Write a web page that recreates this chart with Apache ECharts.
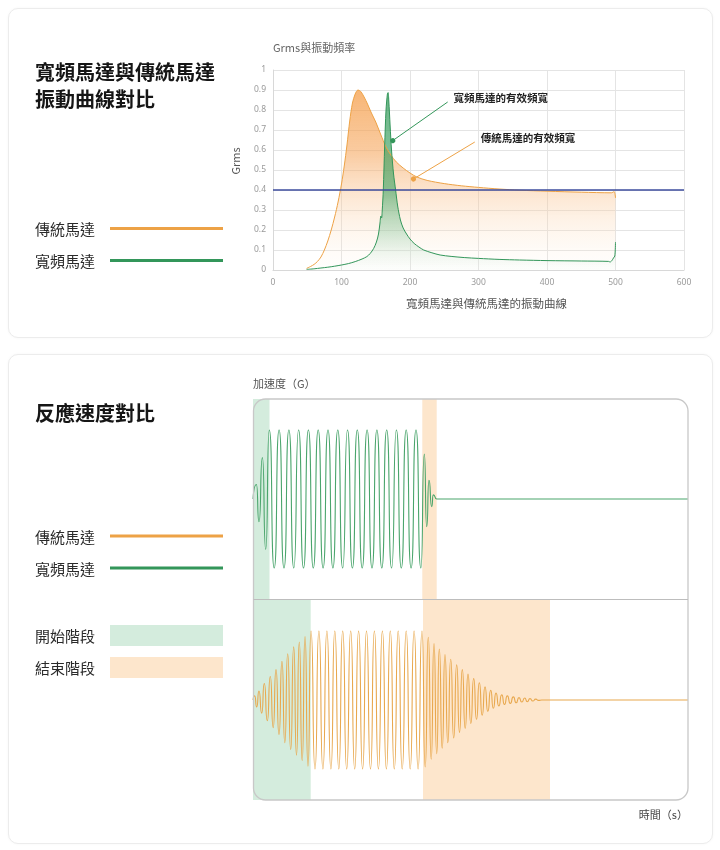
<!DOCTYPE html>
<html>
<head>
<meta charset="utf-8">
<script src="https://cdn.jsdelivr.net/npm/echarts@6/dist/echarts.min.js"></script>
<style>
html, body { margin: 0; padding: 0; background: #fff; }
#wrap { position: relative; width: 720px; height: 850px; }
.card { position: absolute; left: 8px; width: 703px; background: #fff; border: 1px solid #ececec; border-radius: 10px; box-shadow: 0 0 3px rgba(0,0,0,0.04); }
#chart { position: absolute; left: 0; top: 0; width: 720px; height: 850px; }
</style>
</head>
<body>
<div id="wrap">
	<div class="card" style="top:8px;height:328px"></div>
	<div class="card" style="top:354px;height:488px"></div>
	<div id="chart"></div>
</div>
<script>
// Grms vs frequency (Hz)
var traditionalCurve = [
	[49, 0.008], [55, 0.018], [60, 0.028], [65, 0.043], [70, 0.065], [75, 0.1], [80, 0.145],
	[85, 0.2], [90, 0.265], [95, 0.34], [100, 0.43], [104, 0.52], [108, 0.625], [112, 0.745],
	[116, 0.835], [120, 0.88], [124, 0.9], [128, 0.893], [133, 0.865], [138, 0.83], [143, 0.79],
	[150, 0.74], [157, 0.68], [165, 0.615], [172, 0.575], [180, 0.54], [190, 0.51], [200, 0.485],
	[210, 0.465], [225, 0.448], [250, 0.432], [275, 0.421], [300, 0.413], [330, 0.405],
	[360, 0.399], [400, 0.394], [450, 0.389], [494, 0.386], [498, 0.392], [500, 0.36]
];
var widebandCurve = [
	[49, 0.003], [60, 0.006], [70, 0.01], [80, 0.014], [90, 0.019], [100, 0.025], [110, 0.032],
	[120, 0.042], [130, 0.055], [137, 0.067], [142, 0.083], [147, 0.108], [151, 0.14], [154, 0.18],
	[156, 0.23], [157.5, 0.27], [158.5, 0.26], [159.5, 0.3], [161, 0.4], [163, 0.62], [165, 0.8],
	[167, 0.88], [168, 0.887], [169, 0.85], [171, 0.72], [173, 0.6], [176, 0.48], [179, 0.4],
	[182, 0.32], [186, 0.25], [190, 0.21], [195, 0.18], [200, 0.155], [206, 0.133], [213, 0.115],
	[220, 0.1], [232, 0.086], [244, 0.075], [260, 0.068], [280, 0.062], [300, 0.058], [330, 0.053],
	[360, 0.05], [400, 0.047], [450, 0.045], [490, 0.043], [492, 0.04], [495, 0.048], [497, 0.06],
	[499, 0.07], [500, 0.14]
];
var threshold = 0.4;
var widebandNote = [[174.8, 0.647], [255, 0.84]];
var traditionalNote = [[205, 0.455], [294.6, 0.64]];

// response waves: [time, G] at each peak / trough
var widebandWave = [
	[0, 0], [3.4, 0.21], [6.0, -0.33], [9.4, 0.6], [12.7, -0.73], [16.3, 1], [21.2, -1], [26.1, 1],
	[31.0, -1], [35.9, 1], [40.8, -1], [45.6, 1], [50.5, -1], [55.4, 1], [60.3, -1], [65.2, 1],
	[70.1, -1], [75.0, 1], [79.9, -1], [84.8, 1], [89.7, -1], [94.5, 1], [99.4, -1], [104.3, 1],
	[109.2, -1], [114.1, 1], [119.0, -1], [123.9, 1], [128.8, -1], [133.7, 1], [138.6, -1],
	[143.4, 1], [148.3, -1], [153.2, 1], [158.1, -1], [163.0, 1], [167.9, -1], [171.3, 0.65],
	[173.7, -0.4], [176.0, 0.27], [178.7, -0.11], [180.3, 0.06], [183.7, 0], [435, 0]
];
var traditionalWave = [
	[0, 0], [1.7, 0.06], [3.7, -0.1], [6.0, 0.13], [8.7, -0.19], [11.3, 0.24], [14.3, -0.3],
	[17.3, 0.34], [20.2, -0.4], [23.0, 0.44], [26.0, -0.5], [29.0, 0.56], [31.8, -0.62],
	[34.7, 0.67], [37.7, -0.72], [40.7, 0.77], [43.5, -0.8], [46.3, 0.84], [49.2, -0.88],
	[52.0, 0.92], [55.0, -0.96], [58.0, 1], [62.0, -1], [65.9, 1], [69.9, -1], [73.9, 1],
	[77.9, -1], [81.8, 1], [85.8, -1], [89.7, 1], [93.7, -1], [97.7, 1], [101.7, -1], [105.6, 1],
	[109.6, -1], [113.5, 1], [117.5, -1], [121.4, 1], [125.4, -1], [129.4, 1], [133.4, -1],
	[137.3, 1], [141.3, -1], [145.2, 1], [149.2, -1], [153.2, 1], [157.2, -1], [161.1, 1],
	[165.1, -1], [169.0, 1], [172.2, -0.97], [175.3, 0.91], [178.2, -0.86], [181.0, 0.82],
	[183.7, -0.78], [186.3, 0.74], [189.2, -0.7], [192.0, 0.66], [194.8, -0.62], [197.7, 0.59],
	[200.7, -0.55], [203.7, 0.51], [206.5, -0.47], [209.3, 0.44], [212.2, -0.41], [215.0, 0.375],
	[217.8, -0.34], [220.7, 0.31], [223.5, -0.28], [226.3, 0.25], [229.2, -0.22], [232.0, 0.19],
	[234.8, -0.165], [237.7, 0.14], [240.3, -0.12], [243.0, 0.1], [245.8, -0.085], [248.7, 0.075],
	[251.5, -0.065], [254.3, 0.06], [257.3, -0.05], [260.3, 0.045], [263.2, -0.04], [266.0, 0.035],
	[268.8, -0.03], [271.7, 0.03], [274.3, -0.025], [277.0, 0.02], [279.8, -0.015], [282.7, 0.012],
	[285.5, -0.006], [288.7, 0], [435, 0]
];
var widebandStart = [0, 16.5];
var widebandEnd = [169.3, 183.7];
var traditionalStart = [0, 57.7];
var traditionalEnd = [170, 297];

var ORANGE = '#eda246';
var GREEN = '#33965a';
var WAVE_ORANGE = '#e8a84e';
var WAVE_GREEN = '#4aa56c';
var BAND_GREEN = '#d4ecdd';
var BAND_ORANGE = '#fde6cc';
var CJK = '"Noto Sans CJK TC", "Noto Sans CJK SC", sans-serif';

function txt(text, x, y, size, opts) {
	opts = opts || {};
	return {
		type: 'text', x: x, y: y, rotation: opts.rotation || 0, z: 50,
		style: {
			text: text, fontSize: size, fontFamily: CJK, fontWeight: opts.bold ? 'bold' : 'normal',
			fill: opts.color || '#222', align: opts.align || 'left', textAlign: opts.align || 'left',
			verticalAlign: 'middle', textVerticalAlign: 'middle'
		}
	};
}
function legendLine(y, color) {
	return { type: 'line', z: 50, shape: { x1: 110, y1: y, x2: 223, y2: y }, style: { stroke: color, lineWidth: 3 } };
}
function legendRect(y, color) {
	return { type: 'rect', z: 50, shape: { x: 110, y: y, width: 113, height: 21 }, style: { fill: color } };
}
function band(range, color) {
	return [{ xAxis: range[0], itemStyle: { color: color } }, { xAxis: range[1] }];
}

var chart = echarts.init(document.getElementById('chart'), null, { renderer: 'canvas' });

var axisLabel = { color: '#9a9a9a', fontSize: 8.5, fontFamily: 'Noto Sans' };

chart.setOption({
	animation: false,
	backgroundColor: 'transparent',
	textStyle: { fontFamily: CJK },
	grid: [
		{ left: 273, top: 70, width: 411, height: 200 },
		{ left: 253, top: 399, width: 435, height: 200 },
		{ left: 253, top: 600, width: 435, height: 200 }
	],
	xAxis: [
		{
			gridIndex: 0, type: 'value', min: 0, max: 600, interval: 100,
			axisLine: { lineStyle: { color: '#d8d8d8' } }, axisTick: { show: false },
			axisLabel: Object.assign({ margin: 8 }, axisLabel),
			splitLine: { lineStyle: { color: '#e4e4e4' } },
			name: '寬頻馬達與傳統馬達的振動曲線', nameLocation: 'middle', nameGap: 28,
			nameTextStyle: { color: '#555', fontSize: 11.5, padding: [0, 0, 0, 16] }
		},
		{ gridIndex: 1, type: 'value', min: 0, max: 435, show: false },
		{ gridIndex: 2, type: 'value', min: 0, max: 435, show: false }
	],
	yAxis: [
		{
			gridIndex: 0, type: 'value', min: 0, max: 1, interval: 0.1,
			axisLine: { show: true, lineStyle: { color: '#d8d8d8' } }, axisTick: { show: false },
			axisLabel: Object.assign({ margin: 7 }, axisLabel),
			splitLine: { lineStyle: { color: '#e4e4e4' } }
		},
		{ gridIndex: 1, type: 'value', min: -1.45, max: 1.45, show: false },
		{ gridIndex: 2, type: 'value', min: -1.45, max: 1.45, show: false }
	],
	series: [
		{
			name: '傳統馬達', type: 'line', xAxisIndex: 0, yAxisIndex: 0,
			data: traditionalCurve, smooth: 0.3, showSymbol: false, silent: true,
			lineStyle: { color: ORANGE, width: 1 }, itemStyle: { color: ORANGE },
			areaStyle: {
				color: new echarts.graphic.LinearGradient(0, 0, 0, 1, [
					{ offset: 0, color: 'rgba(244,150,58,1)' },
					{ offset: 0.35, color: 'rgba(246,168,96,0.85)' },
					{ offset: 0.6, color: 'rgba(249,196,145,0.55)' },
					{ offset: 1, color: 'rgba(255,244,232,0.12)' }
				])
			},
			markLine: {
				silent: true, symbol: 'none',
				data: [
					{ yAxis: threshold, lineStyle: { color: '#3d4c9e', width: 1.5, type: 'solid' }, label: { show: false } },
					[
						{ coord: traditionalNote[0], symbol: 'circle', symbolSize: 5 },
						{ coord: traditionalNote[1], symbol: 'none' }
					]
				],
				lineStyle: { color: ORANGE, width: 1, type: 'solid' },
				label: {
					show: true, position: 'end', distance: 7, formatter: '傳統馬達的有效頻寬',
					color: '#222', fontWeight: 'bold', fontSize: 10.5, fontFamily: CJK
				}
			}
		},
		{
			name: '寬頻馬達', type: 'line', xAxisIndex: 0, yAxisIndex: 0,
			data: widebandCurve, smooth: 0.3, showSymbol: false, silent: true,
			lineStyle: { color: GREEN, width: 1 }, itemStyle: { color: GREEN },
			areaStyle: {
				color: new echarts.graphic.LinearGradient(0, 0, 0, 1, [
					{ offset: 0, color: 'rgba(42,148,82,1)' },
					{ offset: 0.55, color: 'rgba(58,162,98,0.85)' },
					{ offset: 0.8, color: 'rgba(120,195,150,0.45)' },
					{ offset: 1, color: 'rgba(220,240,228,0.1)' }
				])
			},
			markLine: {
				silent: true, symbol: 'none',
				data: [[
					{ coord: widebandNote[0], symbol: 'circle', symbolSize: 5 },
					{ coord: widebandNote[1], symbol: 'none' }
				]],
				lineStyle: { color: GREEN, width: 1, type: 'solid' },
				label: {
					show: true, position: 'end', distance: 7, formatter: '寬頻馬達的有效頻寬',
					color: '#222', fontWeight: 'bold', fontSize: 10.5, fontFamily: CJK
				}
			}
		},
		{
			name: '寬頻馬達', type: 'line', xAxisIndex: 1, yAxisIndex: 1,
			data: widebandWave, smooth: 0.73, smoothMonotone: 'x', showSymbol: false, silent: true,
			lineStyle: { color: WAVE_GREEN, width: 1.1 },
			markArea: { silent: true, data: [band(widebandStart, BAND_GREEN), band(widebandEnd, BAND_ORANGE)] }
		},
		{
			name: '傳統馬達', type: 'line', xAxisIndex: 2, yAxisIndex: 2,
			data: traditionalWave, smooth: 0.73, smoothMonotone: 'x', showSymbol: false, silent: true,
			lineStyle: { color: WAVE_ORANGE, width: 1.1 },
			markArea: { silent: true, data: [band(traditionalStart, BAND_GREEN), band(traditionalEnd, BAND_ORANGE)] }
		}
	],
	graphic: [
		txt('寬頻馬達與傳統馬達', 35, 72, 20, { bold: true, color: '#161616' }),
		txt('振動曲線對比', 35, 99, 20, { bold: true, color: '#161616' }),
		txt('傳統馬達', 35, 229, 15, { color: '#2a2a2a' }),
		legendLine(228.5, ORANGE),
		txt('寬頻馬達', 35, 261, 15, { color: '#2a2a2a' }),
		legendLine(260.5, GREEN),
		txt('Grms與振動頻率', 273, 48, 11, { color: '#666' }),
		txt('Grms', 236, 161, 11, { color: '#555', align: 'center', rotation: Math.PI / 2 }),

		txt('反應速度對比', 35, 413, 20, { bold: true, color: '#161616' }),
		txt('傳統馬達', 35, 537, 15, { color: '#2a2a2a' }),
		legendLine(536, ORANGE),
		txt('寬頻馬達', 35, 569, 15, { color: '#2a2a2a' }),
		legendLine(568, GREEN),
		txt('開始階段', 35, 636, 15, { color: '#2a2a2a' }),
		legendRect(625, BAND_GREEN),
		txt('結束階段', 35, 668, 15, { color: '#2a2a2a' }),
		legendRect(657, BAND_ORANGE),
		txt('加速度（G）', 253, 384, 11, { color: '#555' }),
		txt('時間（s）', 688, 815, 11, { color: '#444', align: 'right' }),
		{
			type: 'rect', z: 60, silent: true,
			shape: { x: 253.5, y: 399, width: 434.5, height: 401, r: 12 },
			style: { fill: 'none', stroke: '#c8c8c8', lineWidth: 1.3 }
		},
		{
			type: 'line', z: 60, silent: true,
			shape: { x1: 253.5, y1: 599.5, x2: 688, y2: 599.5 },
			style: { stroke: '#bdbdbd', lineWidth: 1 }
		}
	]
});
</script>
</body>
</html>
